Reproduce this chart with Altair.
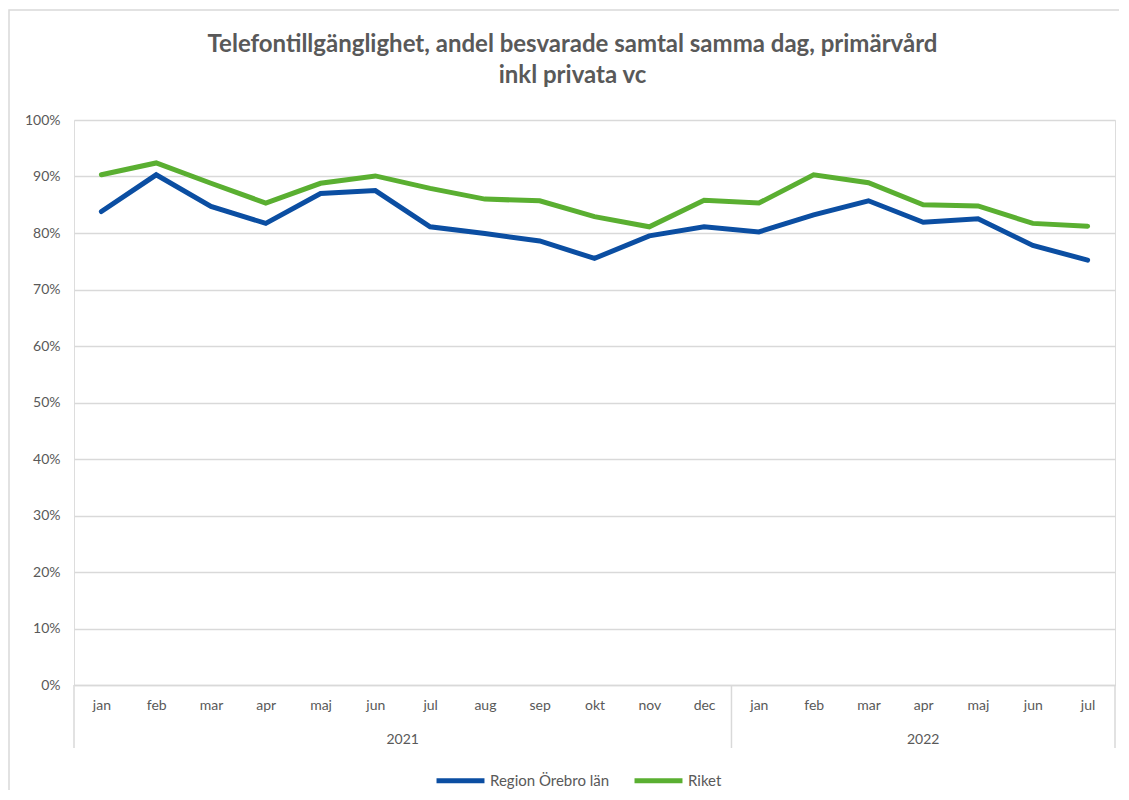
import altair as alt
import pandas as pd

title_lines = ["Telefontillgänglighet, andel besvarade samtal samma dag, primärvård", "inkl privata vc"]
months = ["jan", "feb", "mar", "apr", "maj", "jun", "jul", "aug", "sep", "okt", "nov", "dec",
          "jan", "feb", "mar", "apr", "maj", "jun", "jul"]
years = ["2021"] * 12 + ["2022"] * 7
orebro = [83.8, 90.3, 84.7, 81.7, 87.0, 87.5, 81.1, 79.9, 78.6, 75.5, 79.5, 81.1,
          80.2, 83.2, 85.7, 81.9, 82.5, 77.8, 75.2]
riket = [90.3, 92.4, 88.8, 85.3, 88.8, 90.1, 87.9, 86.0, 85.7, 82.9, 81.1, 85.8,
         85.3, 90.3, 88.9, 85.0, 84.8, 81.7, 81.2]
series_names = ["Region Örebro län", "Riket"]
series_colors = ["#0B4EA2", "#5AAF31"]
year_labels = ["2021", "2022"]
year_centers = [5.5, 15.0]
separators = [-0.5, 11.5, 18.5]

rows = []
for i, m in enumerate(months):
    rows.append({"idx": i, "month": m, "year": years[i], "series": series_names[0], "value": orebro[i] / 100})
    rows.append({"idx": i, "month": m, "year": years[i], "series": series_names[1], "value": riket[i] / 100})
df = pd.DataFrame(rows)

W, H = 1041, 565
FONT = "Lato"
GRAY = "#595959"

label_expr = "[" + ",".join(f"'{m}'" for m in months) + "][datum.value]"

xscale = alt.Scale(domain=[-0.5, 18.5], nice=False, zero=False)

lines = alt.Chart(df).mark_line(strokeWidth=5, strokeCap="round", strokeJoin="miter").encode(
    x=alt.X("idx:Q", scale=xscale,
            axis=alt.Axis(values=list(range(len(months))), labelExpr=label_expr, title=None,
                          grid=False, ticks=False, domain=True, domainColor="#d9d9d9", domainWidth=1.5,
                          labelPadding=13, labelColor=GRAY, labelFont=FONT, labelFontSize=14)),
    y=alt.Y("value:Q", scale=alt.Scale(domain=[0, 1], nice=False),
            axis=alt.Axis(values=[i / 10 for i in range(11)], format=".0%", title=None,
                          grid=True, gridColor="#d9d9d9", gridWidth=1.5, ticks=False, domain=False,
                          labelPadding=14, labelColor=GRAY, labelFont=FONT, labelFontSize=14)),
    color=alt.Color("series:N", scale=alt.Scale(domain=series_names, range=series_colors),
                    legend=alt.Legend(title=None, orient="none", direction="horizontal",
                                      legendX=360, legendY=H + 69,
                                      symbolType="stroke", symbolSize=2300, symbolStrokeWidth=5,
                                      labelFont=FONT, labelFontSize=15, labelColor=GRAY,
                                      labelOffset=3, columnPadding=14)),
    detail="series:N",
)

sep_df = pd.DataFrame({"x": separators})
seps = alt.Chart(sep_df).mark_rule(color="#d9d9d9", strokeWidth=1.5).encode(
    x=alt.X("x:Q", scale=xscale),
    y=alt.value(H),
    y2=alt.value(H + 63),
)

yr_df = pd.DataFrame({"x": year_centers, "label": year_labels})
yrs = alt.Chart(yr_df).mark_text(font=FONT, fontSize=14, color=GRAY, baseline="middle").encode(
    x=alt.X("x:Q", scale=xscale),
    y=alt.value(H + 55),
    text="label:N",
)

title1 = alt.Chart(alt.Data(values=[{"t": title_lines[0]}])).mark_text(
    font=FONT, fontSize=24, fontWeight="bold", color=GRAY, baseline="middle", align="center"
).encode(x=alt.value(W / 2 - 22), y=alt.value(-75), text="t:N")
title2 = alt.Chart(alt.Data(values=[{"t": title_lines[1]}])).mark_text(
    font=FONT, fontSize=24, fontWeight="bold", color=GRAY, baseline="middle", align="center"
).encode(x=alt.value(W / 2 - 22), y=alt.value(-44), text="t:N")

frame = alt.Chart(alt.Data(values=[{}])).mark_rect(fill=None, stroke="#d9d9d9", strokeWidth=1.5).encode(
    x=alt.value(-65), x2=alt.value(W + 200), y=alt.value(-110), y2=alt.value(H + 300)
)

chart = alt.layer(frame, lines, seps, yrs, title1, title2).properties(
    width=W, height=H,
    autosize=alt.AutoSizeParams(type="none"),
    padding={"left": 66, "top": 112, "right": 4, "bottom": 105},
).configure_view(stroke=None).configure(background="white")

chart.save("out.html", embed_options={"renderer": "svg", "actions": False})
